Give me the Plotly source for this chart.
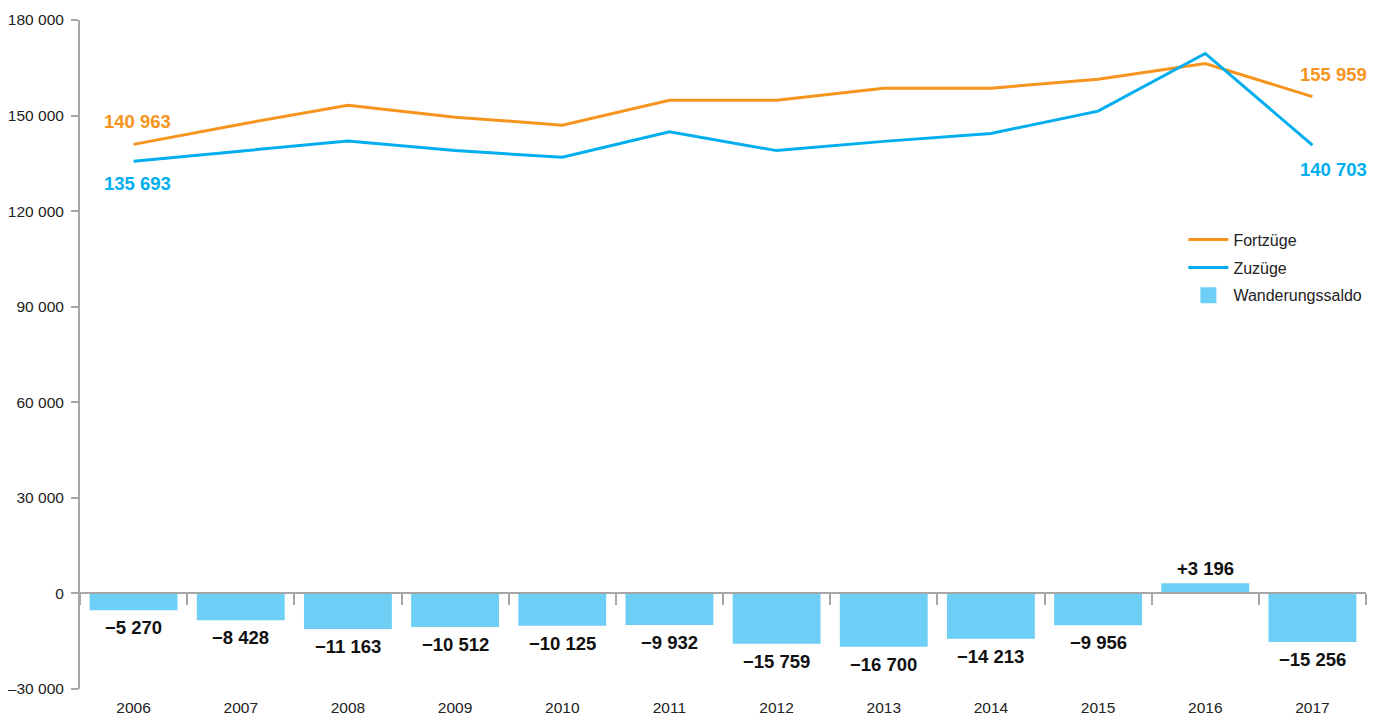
import plotly.graph_objects as go

years = ["2006", "2007", "2008", "2009", "2010", "2011", "2012", "2013", "2014", "2015", "2016", "2017"]
fortzuege = [140963, 147300, 153200, 149500, 147000, 154800, 154800, 158600, 158600, 161400, 166300, 155959]
zuzuege = [135693, 138900, 142000, 139000, 136900, 144900, 139000, 141900, 144400, 151400, 169500, 140703]
saldo = [-5270, -8428, -11163, -10512, -10125, -9932, -15759, -16700, -14213, -9956, 3196, -15256]
saldo_labels = ["−5 270", "−8 428", "−11 163", "−10 512", "−10 125", "−9 932",
                "−15 759", "−16 700", "−14 213", "−9 956", "+3 196", "−15 256"]
ytick_vals = [-30000, 0, 30000, 60000, 90000, 120000, 150000, 180000]
ytick_text = ["–30 000", "0", "30 000", "60 000", "90 000", "120 000", "150 000", "180 000"]

ORANGE = "#F7941D"
BLUE = "#00AEEF"
BAR = "#6DCFF6"
GRAY = "#a6a6a6"
TXT = "#222222"
FONT = "Liberation Sans, Arial, sans-serif"
LBL = 18.5
TICK = 15.5

def fmt(v):
    return f"{v:,}".replace(",", " ")

fig = go.Figure()
fig.add_trace(go.Scatter(x=years, y=fortzuege, mode="lines", name="Fortzüge", legendgroup="a",
                         line=dict(color=ORANGE, width=3), xaxis="x", yaxis="y"))
fig.add_trace(go.Scatter(x=years, y=zuzuege, mode="lines", name="Zuzüge", legendgroup="b",
                         line=dict(color=BLUE, width=3), xaxis="x", yaxis="y"))
fig.add_trace(go.Bar(x=years, y=saldo, name="Wanderungssaldo", showlegend=False,
                     marker=dict(color=BAR, line=dict(width=0)), xaxis="x2", yaxis="y"))
# legend entry with a larger swatch
fig.add_trace(go.Scatter(x=[None], y=[None], mode="markers", name="Wanderungssaldo", legendgroup="c",
                         marker=dict(color=BAR, symbol="square", size=22), xaxis="x", yaxis="y"))

annotations = []
for i, (v, t) in enumerate(zip(saldo, saldo_labels)):
    if v < 0:
        annotations.append(dict(x=i, y=v, xref="x2", yref="y", text="<b>" + t + "</b>", showarrow=False,
                                yanchor="top", yshift=-5,
                                font=dict(family=FONT, size=LBL, color="#111")))
    else:
        annotations.append(dict(x=i, y=v, xref="x2", yref="y", text="<b>" + t + "</b>", showarrow=False,
                                yanchor="bottom", yshift=2,
                                font=dict(family=FONT, size=LBL, color="#111")))

last = len(years) - 1
annotations += [
    dict(x=0, y=fortzuege[0], xref="x", yref="y", text="<b>" + fmt(fortzuege[0]) + "</b>",
         showarrow=False, yanchor="bottom", yshift=10, xshift=4, font=dict(family=FONT, size=LBL, color=ORANGE)),
    dict(x=0, y=zuzuege[0], xref="x", yref="y", text="<b>" + fmt(zuzuege[0]) + "</b>",
         showarrow=False, yanchor="top", yshift=-10, xshift=4, font=dict(family=FONT, size=LBL, color=BLUE)),
    dict(x=last, y=fortzuege[-1], xref="x", yref="y", text="<b>" + fmt(fortzuege[-1]) + "</b>",
         showarrow=False, yanchor="bottom", yshift=10, xshift=21, font=dict(family=FONT, size=LBL, color=ORANGE)),
    dict(x=last, y=zuzuege[-1], xref="x", yref="y", text="<b>" + fmt(zuzuege[-1]) + "</b>",
         showarrow=False, yanchor="top", yshift=-12, xshift=21, font=dict(family=FONT, size=LBL, color=BLUE)),
]

fig.update_layout(
    width=1376, height=707,
    margin=dict(l=72, r=18, t=12, b=26, autoexpand=False),
    paper_bgcolor="white", plot_bgcolor="white",
    font=dict(family=FONT, size=TICK, color=TXT),
    hovermode=False,
    bargap=0.18,
    showlegend=True,
    legend=dict(x=0.858, y=0.697, xanchor="left", yanchor="top", traceorder="grouped",
                font=dict(family=FONT, size=16, color=TXT), itemsizing="trace", itemwidth=40,
                tracegroupgap=4, bgcolor="rgba(0,0,0,0)"),
    xaxis=dict(type="category", range=[-0.5, 11.5], showline=False, ticks="", showgrid=False,
               zeroline=False, automargin=False, ticklabelstandoff=7,
               tickfont=dict(family=FONT, size=TICK, color=TXT), domain=[0, 1]),
    xaxis2=dict(type="category", range=[-0.5, 11.5], overlaying="x", anchor="free", position=30 / 210,
                showline=True, linecolor=GRAY, linewidth=2, ticks="outside", tickson="boundaries",
                ticklen=11, tickwidth=2, tickcolor=GRAY, showticklabels=False, showgrid=False,
                zeroline=False, automargin=False, domain=[0, 1]),
    yaxis=dict(range=[-30000, 180000], tickvals=ytick_vals, ticktext=ytick_text, showline=True,
               linecolor=GRAY, linewidth=2, ticks="outside", ticklen=7, tickwidth=2, tickcolor=GRAY,
               showgrid=False, zeroline=False, automargin=False, ticklabelstandoff=4,
               tickfont=dict(family=FONT, size=TICK, color=TXT)),
    annotations=annotations,
)

fig.write_html("out.html")
